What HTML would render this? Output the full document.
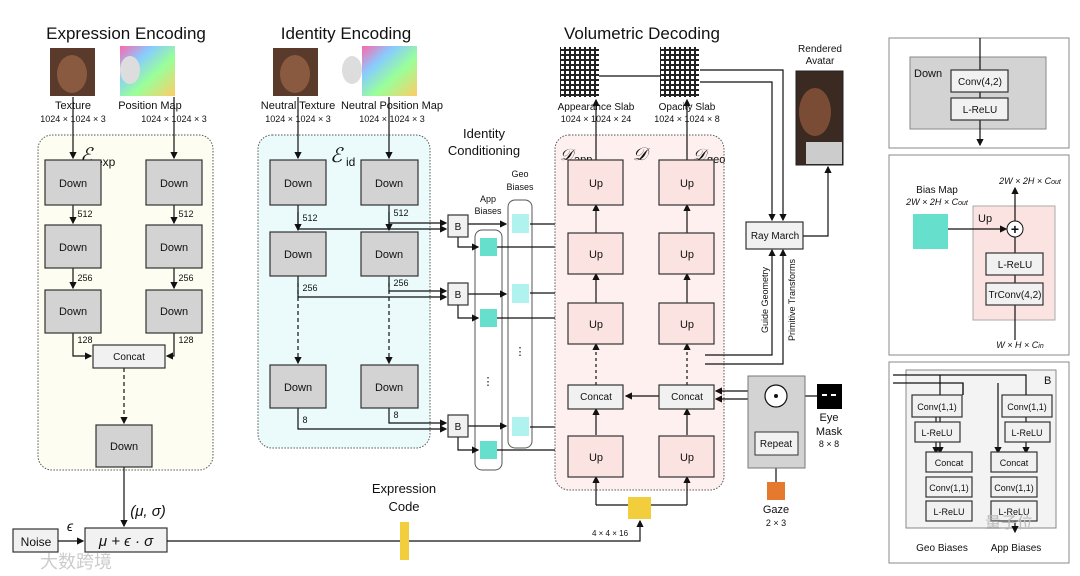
<!DOCTYPE html>
<html><head><meta charset="utf-8"><style>
html,body{margin:0;padding:0;background:#fff;width:1080px;height:576px;overflow:hidden}
svg text{font-family:"Liberation Sans","Noto Sans CJK SC",sans-serif;fill:#111}
.t{font-size:11px;text-anchor:middle}
.s{font-size:9px;text-anchor:middle}
.h{font-size:17px;text-anchor:middle}
.dn{fill:#d3d3d3;stroke:#333;stroke-width:1.2}
.up{fill:#fbe3e1;stroke:#333;stroke-width:1.2}
.wb{fill:#f1f1f1;stroke:#333;stroke-width:1.2}
.ln{stroke:#111;stroke-width:1.2;fill:none}
</style></head><body>
<svg width="1080" height="576" viewBox="0 0 1080 576" xmlns="http://www.w3.org/2000/svg">
<defs>
<marker id="a" markerWidth="6" markerHeight="6" refX="5" refY="3" orient="auto"><path d="M0,0 L6,3 L0,6z" fill="#111"/></marker>
<linearGradient id="rb" x1="0" y1="0" x2="1" y2="1"><stop offset="0" stop-color="#f6a"/><stop offset=".3" stop-color="#8cf"/><stop offset=".6" stop-color="#9f9"/><stop offset="1" stop-color="#fc6"/></linearGradient>
<pattern id="g" width="5" height="5" patternUnits="userSpaceOnUse"><rect width="5" height="5" fill="#222"/><rect x="1" y="1" width="3" height="3" fill="#fff"/></pattern>
</defs>
<text x="126" y="39" class="h">Expression Encoding</text>
<text x="346" y="39" class="h">Identity Encoding</text>
<text x="642" y="39" class="h">Volumetric Decoding</text>
<rect x="50" y="48" width="45" height="48" fill="#5a3a2a"/><ellipse cx="72" cy="74" rx="15" ry="19" fill="#8a5a40"/>
<rect x="120" y="46" width="55" height="50" fill="url(#rb)"/><ellipse cx="130" cy="70" rx="10" ry="14" fill="#ddd"/>
<rect x="273" y="48" width="45" height="48" fill="#5a3a2a"/><ellipse cx="295" cy="74" rx="15" ry="19" fill="#8a5a40"/>
<rect x="362" y="46" width="55" height="50" fill="url(#rb)"/><ellipse cx="352" cy="70" rx="10" ry="14" fill="#ddd"/>
<text x="73" y="109" class="t">Texture</text><text x="73" y="122" class="s">1024 × 1024 × 3</text>
<text x="150" y="109" class="t">Position Map</text><text x="174" y="122" class="s">1024 × 1024 × 3</text>
<text x="298" y="109" class="t">Neutral Texture</text><text x="298" y="122" class="s">1024 × 1024 × 3</text>
<text x="392" y="109" class="t">Neutral Position Map</text><text x="392" y="122" class="s">1024 × 1024 × 3</text>
<rect x="38" y="135" width="175" height="335" rx="14" fill="#fdfdf2" stroke="#555" stroke-dasharray="1.5,1.5"/>
<text x="80" y="162" style="font-size:20px;font-style:italic;font-family:'Liberation Serif',serif">ℰ</text><text x="96" y="166" style="font-size:12px">exp</text>
<g class="ln"><line x1="73" y1="97" x2="73" y2="158" marker-end="url(#a)"/><line x1="174" y1="97" x2="174" y2="158" marker-end="url(#a)"/>
<line x1="73" y1="205" x2="73" y2="223" marker-end="url(#a)"/><line x1="174" y1="205" x2="174" y2="223" marker-end="url(#a)"/>
<line x1="73" y1="268" x2="73" y2="288" marker-end="url(#a)"/><line x1="174" y1="268" x2="174" y2="288" marker-end="url(#a)"/>
<path d="M73 333 V356 H91" marker-end="url(#a)"/><path d="M174 333 V356 H167" marker-end="url(#a)"/>
<line x1="124" y1="368" x2="124" y2="423" stroke-dasharray="4,3" marker-end="url(#a)"/>
<line x1="124" y1="467" x2="124" y2="526" marker-end="url(#a)"/></g>
<rect x="45" y="160" width="56" height="45" class="dn"/><text x="73" y="187" class="t">Down</text>
<rect x="146" y="160" width="56" height="45" class="dn"/><text x="174" y="187" class="t">Down</text>
<rect x="45" y="225" width="56" height="43" class="dn"/><text x="73" y="251" class="t">Down</text>
<rect x="146" y="225" width="56" height="43" class="dn"/><text x="174" y="251" class="t">Down</text>
<rect x="45" y="290" width="56" height="43" class="dn"/><text x="73" y="315" class="t">Down</text>
<rect x="146" y="290" width="56" height="43" class="dn"/><text x="174" y="315" class="t">Down</text>
<text x="85" y="217" class="s">512</text><text x="186" y="217" class="s">512</text>
<text x="85" y="281" class="s">256</text><text x="186" y="281" class="s">256</text>
<text x="85" y="343" class="s">128</text><text x="186" y="343" class="s">128</text>
<rect x="93" y="345" width="72" height="23" class="wb"/><text x="129" y="360" class="s" style="font-size:10px">Concat</text>
<rect x="96" y="425" width="56" height="42" class="dn"/><text x="124" y="450" class="t">Down</text>
<text x="148" y="516" style="font-size:15px;font-style:italic;text-anchor:middle">(μ, σ)</text>
<rect x="258" y="135" width="172" height="313" rx="14" fill="#ebfbfc" stroke="#555" stroke-dasharray="1.5,1.5"/>
<text x="330" y="162" style="font-size:20px;font-style:italic;font-family:'Liberation Serif',serif">ℰ</text><text x="346" y="166" style="font-size:12px">id</text>
<g class="ln"><line x1="298" y1="97" x2="298" y2="158" marker-end="url(#a)"/><line x1="389" y1="97" x2="389" y2="158" marker-end="url(#a)"/>
<line x1="298" y1="205" x2="298" y2="230" marker-end="url(#a)"/><line x1="389" y1="205" x2="389" y2="230" marker-end="url(#a)"/>
<line x1="298" y1="276" x2="298" y2="363" stroke-dasharray="4,3" marker-end="url(#a)"/><line x1="389" y1="276" x2="389" y2="363" stroke-dasharray="4,3" marker-end="url(#a)"/>
<path d="M298 212 V229 H446" marker-end="url(#a)"/><path d="M389 212 V223 H446" marker-end="url(#a)"/>
<path d="M298 280 V297 H446" marker-end="url(#a)"/><path d="M389 280 V291 H446" marker-end="url(#a)"/>
<path d="M298 408 V429 H446" marker-end="url(#a)"/><path d="M389 408 V423 H446" marker-end="url(#a)"/></g>
<rect x="270" y="160" width="56" height="45" class="dn"/><text x="298" y="187" class="t">Down</text>
<rect x="361" y="160" width="57" height="45" class="dn"/><text x="389" y="187" class="t">Down</text>
<rect x="270" y="232" width="56" height="44" class="dn"/><text x="298" y="258" class="t">Down</text>
<rect x="361" y="232" width="57" height="44" class="dn"/><text x="389" y="258" class="t">Down</text>
<rect x="270" y="365" width="56" height="43" class="dn"/><text x="298" y="391" class="t">Down</text>
<rect x="361" y="365" width="57" height="43" class="dn"/><text x="389" y="391" class="t">Down</text>
<text x="310" y="221" class="s">512</text><text x="401" y="216" class="s">512</text>
<text x="310" y="291" class="s">256</text><text x="401" y="286" class="s">256</text>
<text x="305" y="423" class="s">8</text><text x="396" y="418" class="s">8</text>
<text x="484" y="138" class="t" style="font-size:13px">Identity</text><text x="484" y="155" class="t" style="font-size:13px">Conditioning</text>
<text x="488" y="202" class="s">App</text><text x="488" y="214" class="s">Biases</text>
<text x="520" y="177" class="s">Geo</text><text x="520" y="190" class="s">Biases</text>
<rect x="475" y="230" width="27" height="240" rx="7" fill="#fff" stroke="#555"/>
<rect x="508" y="200" width="24" height="248" rx="7" fill="#fff" stroke="#555"/>
<text x="488" y="385" class="t">⋮</text><text x="520" y="355" class="t">⋮</text>
<g class="ln">
<path d="M468 224 H506" marker-end="url(#a)"/><path d="M458 237 V247 H478" marker-end="url(#a)"/>
<path d="M468 294 H506" marker-end="url(#a)"/><path d="M458 305 V318 H478" marker-end="url(#a)"/>
<path d="M468 426 H506" marker-end="url(#a)"/><path d="M458 437 V450 H478" marker-end="url(#a)"/>
<path d="M530 224 H650 V244 H657" marker-end="url(#a)"/><path d="M497 247 H566" marker-end="url(#a)"/>
<path d="M530 293 H650 V314 H657" marker-end="url(#a)"/><path d="M497 318 H566" marker-end="url(#a)"/>
<path d="M530 427 H648 V456 H657" marker-end="url(#a)"/><path d="M497 450 H566" marker-end="url(#a)"/>
</g>
<rect x="448" y="215" width="20" height="22" class="wb"/><text x="458" y="230" class="s" style="font-size:10px">B</text>
<rect x="448" y="283" width="20" height="22" class="wb"/><text x="458" y="298" class="s" style="font-size:10px">B</text>
<rect x="448" y="415" width="20" height="22" class="wb"/><text x="458" y="430" class="s" style="font-size:10px">B</text>
<rect x="480" y="238" width="17" height="18" fill="#66e0cc"/><rect x="480" y="309" width="17" height="18" fill="#66e0cc"/><rect x="480" y="441" width="17" height="18" fill="#66e0cc"/>
<rect x="512" y="214" width="17" height="19" fill="#b0f3ee"/><rect x="512" y="284" width="17" height="19" fill="#b0f3ee"/><rect x="512" y="417" width="17" height="19" fill="#b0f3ee"/>
<rect x="555" y="135" width="169" height="355" rx="14" fill="#fdf0ef" stroke="#555" stroke-dasharray="1.5,1.5"/>
<text x="560" y="160" style="font-size:16px;font-style:italic;font-family:'Liberation Serif',serif">𝒟</text><text x="574" y="163" style="font-size:11px">app</text>
<text x="640" y="160" style="font-size:18px;font-style:italic;font-family:'Liberation Serif',serif;text-anchor:middle">𝒟</text>
<text x="693" y="160" style="font-size:16px;font-style:italic;font-family:'Liberation Serif',serif">𝒟</text><text x="707" y="163" style="font-size:11px">geo</text>
<rect x="560" y="47" width="39" height="50" fill="url(#g)"/><rect x="660" y="47" width="39" height="50" fill="url(#g)"/>
<text x="596" y="110" class="t" style="font-size:10px">Appearance Slab</text><text x="596" y="122" class="s">1024 × 1024 × 24</text>
<text x="687" y="110" class="t" style="font-size:10px">Opacity Slab</text><text x="687" y="122" class="s">1024 × 1024 × 8</text>
<g class="ln">
<line x1="596" y1="160" x2="596" y2="100" marker-end="url(#a)"/><line x1="687" y1="160" x2="687" y2="100" marker-end="url(#a)"/>
<line x1="596" y1="233" x2="596" y2="205" marker-end="url(#a)"/><line x1="687" y1="233" x2="687" y2="205" marker-end="url(#a)"/>
<line x1="596" y1="303" x2="596" y2="274" marker-end="url(#a)"/><line x1="687" y1="303" x2="687" y2="274" marker-end="url(#a)"/>
<line x1="596" y1="385" x2="596" y2="344" stroke-dasharray="3,3" marker-end="url(#a)"/><line x1="687" y1="385" x2="687" y2="344" stroke-dasharray="3,3" marker-end="url(#a)"/>
<line x1="596" y1="435" x2="596" y2="409" marker-end="url(#a)"/><line x1="687" y1="435" x2="687" y2="409" marker-end="url(#a)"/>
<line x1="659" y1="396" x2="626" y2="396" marker-end="url(#a)"/>
<path d="M596 505 V477" marker-end="url(#a)"/><path d="M687 505 V477" marker-end="url(#a)"/>
<path d="M596 505 H687"/>
<path d="M599 76 H660"/>
<path d="M700 70 H783 V220" marker-end="url(#a)"/>
<path d="M700 82 H772 V220" marker-end="url(#a)"/>
<path d="M705 355 H772 V250" marker-end="url(#a)"/><path d="M705 364 H783 V250" marker-end="url(#a)"/>
<path d="M803 236 H828 V167" marker-end="url(#a)"/>
<path d="M748 391 H716" marker-end="url(#a)"/><path d="M748 399 H716" marker-end="url(#a)"/>
<path d="M817 396 H787" marker-end="url(#a)"/>
<path d="M776 430 V409" marker-end="url(#a)"/><path d="M776 482 V456" marker-end="url(#a)"/>
</g>
<rect x="568" y="160" width="55" height="45" class="up"/><text x="596" y="187" class="t">Up</text>
<rect x="659" y="160" width="55" height="45" class="up"/><text x="687" y="187" class="t">Up</text>
<rect x="568" y="233" width="55" height="41" class="up"/><text x="596" y="258" class="t">Up</text>
<rect x="659" y="233" width="55" height="41" class="up"/><text x="687" y="258" class="t">Up</text>
<rect x="568" y="303" width="55" height="41" class="up"/><text x="596" y="328" class="t">Up</text>
<rect x="659" y="303" width="55" height="41" class="up"/><text x="687" y="328" class="t">Up</text>
<rect x="568" y="385" width="55" height="24" class="wb"/><text x="596" y="400" class="s" style="font-size:10px">Concat</text>
<rect x="659" y="385" width="55" height="24" class="wb"/><text x="687" y="400" class="s" style="font-size:10px">Concat</text>
<rect x="568" y="436" width="55" height="41" class="up"/><text x="596" y="461" class="t">Up</text>
<rect x="659" y="436" width="55" height="41" class="up"/><text x="687" y="461" class="t">Up</text>
<rect x="746" y="222" width="57" height="27" class="wb"/><text x="775" y="239" class="s" style="font-size:10px">Ray March</text>
<text x="768" y="300" class="s" transform="rotate(-90 768 300)">Guide Geometry</text>
<text x="795" y="300" class="s" transform="rotate(-90 795 300)">Primitive Transforms</text>
<text x="820" y="52" class="s" style="font-size:10px">Rendered</text><text x="820" y="64" class="s" style="font-size:10px">Avatar</text>
<rect x="796" y="71" width="47" height="94" fill="#3b2a22" stroke="#222"/><ellipse cx="815" cy="112" rx="16" ry="24" fill="#7a4c36"/><rect x="806" y="142" width="36" height="22" fill="#ccc"/>
<rect x="748" y="376" width="57" height="92" fill="#d3d3d3" stroke="#777"/>
<circle cx="776" cy="396" r="11" fill="#fff" stroke="#111" stroke-width="1.2"/><circle cx="776" cy="396" r="2" fill="#111"/>
<rect x="755" y="432" width="43" height="23" fill="#f1f1f1" stroke="#333"/><text x="776" y="447" class="s" style="font-size:10px">Repeat</text>
<rect x="817" y="384" width="25" height="25" fill="#000"/><rect x="822" y="394" width="5" height="2" fill="#fff"/><rect x="831" y="394" width="5" height="2" fill="#fff"/>
<text x="829" y="421" class="t">Eye</text><text x="829" y="435" class="t">Mask</text><text x="829" y="447" class="s">8 × 8</text>
<rect x="767" y="482" width="18" height="18" fill="#e57a2f"/>
<text x="776" y="513" class="t">Gaze</text><text x="776" y="526" class="s">2 × 3</text>
<rect x="13" y="529" width="45" height="23" class="wb"/><text x="36" y="546" class="t" style="font-size:12px">Noise</text>
<rect x="85" y="528" width="82" height="24" class="wb"/><text x="126" y="546" style="font-size:15px;font-style:italic;text-anchor:middle">μ + ϵ · σ</text>
<text x="70" y="531" style="font-size:14px;font-style:italic;text-anchor:middle">ϵ</text>
<g class="ln"><line x1="58" y1="541" x2="83" y2="541" marker-end="url(#a)"/><path d="M167 541 H640 V521" marker-end="url(#a)"/></g>
<rect x="400" y="522" width="9" height="38" fill="#f2cd3c"/>
<text x="404" y="493" class="t" style="font-size:13px">Expression</text><text x="404" y="511" class="t" style="font-size:13px">Code</text>
<rect x="628" y="497" width="23" height="22" fill="#f2cd3c"/>
<text x="610" y="536" class="s" style="font-size:8px">4 × 4 × 16</text>
<text x="40" y="568" style="font-size:18px;fill:#ccc">大数跨境</text>
<rect x="889" y="38" width="180" height="110" fill="#fff" stroke="#888"/>
<rect x="910" y="57" width="136" height="72" fill="#d3d3d3" stroke="#888"/>
<text x="914" y="77" style="font-size:11px">Down</text>
<line x1="980" y1="38" x2="980" y2="145" class="ln" marker-end="url(#a)"/>
<rect x="951" y="70" width="57" height="22" class="wb"/><text x="980" y="85" class="s" style="font-size:10px">Conv(4,2)</text>
<rect x="951" y="98" width="57" height="22" class="wb"/><text x="980" y="113" class="s" style="font-size:10px">L-ReLU</text>
<rect x="889" y="155" width="180" height="200" fill="#fff" stroke="#888"/>
<rect x="973" y="206" width="82" height="114" fill="#fbe3e1" stroke="#aaa"/>
<text x="978" y="222" style="font-size:11px">Up</text>
<line x1="1015" y1="340" x2="1015" y2="188" class="ln" marker-end="url(#a)"/>
<text x="1030" y="184" class="s" style="font-style:italic">2W × 2H × C<tspan style="font-size:7px">out</tspan></text>
<text x="937" y="193" class="s" style="font-size:10px">Bias Map</text><text x="937" y="205" class="s" style="font-style:italic">2W × 2H × C<tspan style="font-size:7px">out</tspan></text>
<rect x="913" y="214" width="35" height="35" fill="#66e0cc"/>
<line x1="948" y1="229" x2="1006" y2="229" class="ln" marker-end="url(#a)"/>
<circle cx="1015" cy="229" r="8" fill="#fff" stroke="#111"/><text x="1015" y="234" class="t" style="font-size:14px;font-weight:bold">+</text>
<rect x="986" y="253" width="57" height="22" class="wb"/><text x="1015" y="268" class="s" style="font-size:10px">L-ReLU</text>
<rect x="986" y="283" width="57" height="22" class="wb"/><text x="1015" y="298" class="s" style="font-size:10px">TrConv(4,2)</text>
<text x="1020" y="348" class="s" style="font-style:italic">W × H × C<tspan style="font-size:7px">in</tspan></text>
<rect x="889" y="362" width="180" height="201" fill="#fff" stroke="#888"/>
<rect x="906" y="370" width="150" height="158" fill="#f3f3f3" stroke="#888"/>
<text x="1044" y="384" style="font-size:11px">B</text>
<g class="ln"><path d="M893 375 H1026 V395"/><path d="M893 383 H963 V395"/>
<path d="M940 375 V453" marker-end="url(#a)"/><path d="M963 383 V395"/>
<path d="M998 383 V453" marker-end="url(#a)"/><path d="M936 415 V453" marker-end="url(#a)"/>
<path d="M1026 415 V453" marker-end="url(#a)"/><path d="M1015 510 V532" marker-end="url(#a)"/></g>
<rect x="912" y="395" width="50" height="22" class="wb"/><text x="937" y="410" class="s">Conv(1,1)</text>
<rect x="1002" y="395" width="50" height="22" class="wb"/><text x="1027" y="410" class="s">Conv(1,1)</text>
<rect x="915" y="422" width="45" height="20" class="wb"/><text x="937" y="436" class="s">L-ReLU</text>
<rect x="1005" y="422" width="45" height="20" class="wb"/><text x="1027" y="436" class="s">L-ReLU</text>
<rect x="926" y="452" width="46" height="20" class="wb"/><text x="949" y="466" class="s">Concat</text>
<rect x="991" y="452" width="46" height="20" class="wb"/><text x="1014" y="466" class="s">Concat</text>
<rect x="926" y="477" width="46" height="20" class="wb"/><text x="949" y="491" class="s">Conv(1,1)</text>
<rect x="991" y="477" width="46" height="20" class="wb"/><text x="1014" y="491" class="s">Conv(1,1)</text>
<rect x="926" y="501" width="46" height="20" class="wb"/><text x="949" y="515" class="s">L-ReLU</text>
<rect x="991" y="501" width="46" height="20" class="wb"/><text x="1014" y="515" class="s">L-ReLU</text>
<text x="942" y="551" class="s" style="font-size:10px">Geo Biases</text><text x="1016" y="551" class="s" style="font-size:10px">App Biases</text>
<text x="985" y="528" style="font-size:16px;fill:#bbb">量子位</text>
</svg>
</body></html>
